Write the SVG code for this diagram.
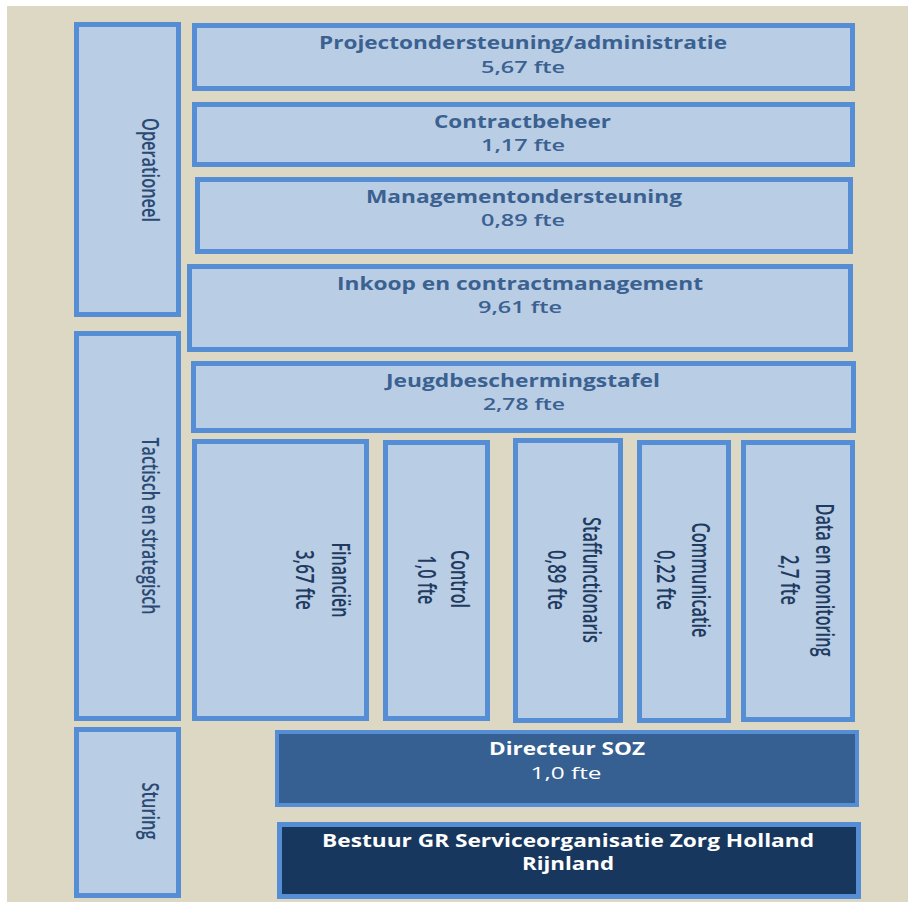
<svg xmlns="http://www.w3.org/2000/svg" width="908" height="902" viewBox="0 0 908 902">
<style>
.bx{fill:#b9cde5;stroke:#558ed5;stroke-width:5}
.dir{fill:#366092;stroke:#558ed5;stroke-width:4}
.bes{fill:#17375e;stroke:#558ed5;stroke-width:5}
.t{font-family:"Open Sans","Noto Sans",sans-serif;font-size:17px;font-weight:bold;fill:#3a6190;text-anchor:middle}
.f{font-family:"Open Sans","Noto Sans",sans-serif;font-size:17px;font-weight:600;fill:#3a6190;text-anchor:middle}
.w{fill:#ffffff}
.v{font-family:"Open Sans","Noto Sans",sans-serif;font-size:25px;font-weight:600;fill:#203a60;text-anchor:middle}
.vb{font-family:"Open Sans","Noto Sans",sans-serif;font-size:24px;font-weight:600;fill:#2b4a73;text-anchor:middle}
</style>
<rect x="0" y="0" width="908" height="902" fill="#ffffff"/>
<rect x="7" y="6" width="901" height="896" fill="#ddd8c4"/>

<g id="operationeel">
<rect class="bx" x="76.5" y="24.5" width="102" height="290"/>
<text class="vb" transform="translate(150,170) rotate(90)" y="8.5" textLength="104" lengthAdjust="spacingAndGlyphs">Operationeel</text>
</g>
<g id="tactisch">
<rect class="bx" x="76.5" y="333.5" width="102" height="385"/>
<text class="vb" transform="translate(150,526) rotate(90)" y="8.5" textLength="177" lengthAdjust="spacingAndGlyphs">Tactisch en strategisch</text>
</g>
<g id="sturing">
<rect class="bx" x="76.5" y="729.5" width="102" height="166"/>
<text class="vb" transform="translate(150,811) rotate(90)" y="8.5" textLength="57" lengthAdjust="spacingAndGlyphs">Sturing</text>
</g>

<g id="project">
<rect class="bx" x="194.5" y="25.5" width="658" height="63"/>
<text class="t" x="523" y="49" textLength="408" lengthAdjust="spacingAndGlyphs">Projectondersteuning/administratie</text>
<text class="f" x="523" y="73" textLength="84" lengthAdjust="spacingAndGlyphs">5,67 fte</text>
</g>
<g id="contractbeheer">
<rect class="bx" x="194.5" y="104.5" width="658" height="60"/>
<text class="t" x="522.5" y="128" textLength="177" lengthAdjust="spacingAndGlyphs">Contractbeheer</text>
<text class="f" x="523" y="151" textLength="84" lengthAdjust="spacingAndGlyphs">1,17 fte</text>
</g>
<g id="management">
<rect class="bx" x="197.5" y="179.5" width="653" height="72"/>
<text class="t" x="524" y="203" textLength="316" lengthAdjust="spacingAndGlyphs">Managementondersteuning</text>
<text class="f" x="523" y="226" textLength="84" lengthAdjust="spacingAndGlyphs">0,89 fte</text>
</g>
<g id="inkoop">
<rect class="bx" x="189.5" y="266.5" width="661" height="83"/>
<text class="t" x="520" y="290" textLength="366" lengthAdjust="spacingAndGlyphs">Inkoop en contractmanagement</text>
<text class="f" x="520" y="313" textLength="84" lengthAdjust="spacingAndGlyphs">9,61 fte</text>
</g>
<g id="jeugd">
<rect class="bx" x="193.5" y="363.5" width="660" height="67"/>
<text class="t" x="523" y="387" textLength="274" lengthAdjust="spacingAndGlyphs">Jeugdbeschermingstafel</text>
<text class="f" x="524" y="410" textLength="82" lengthAdjust="spacingAndGlyphs">2,78 fte</text>
</g>

<g id="financien">
<rect class="bx" x="194.5" y="441.5" width="172" height="277"/>
<text class="v" transform="translate(341,580) rotate(90)" y="9" textLength="75" lengthAdjust="spacingAndGlyphs">Financiën</text>
<text class="v" transform="translate(305,580) rotate(90)" y="9" textLength="60" lengthAdjust="spacingAndGlyphs">3,67 fte</text>
</g>
<g id="control">
<rect class="bx" x="385.5" y="442.5" width="102" height="276"/>
<text class="v" transform="translate(460,579) rotate(90)" y="9" textLength="58" lengthAdjust="spacingAndGlyphs">Control</text>
<text class="v" transform="translate(427,580) rotate(90)" y="9" textLength="49" lengthAdjust="spacingAndGlyphs">1,0 fte</text>
</g>
<g id="staf">
<rect class="bx" x="515.5" y="440.5" width="105" height="280"/>
<text class="v" transform="translate(592,580) rotate(90)" y="9" textLength="126" lengthAdjust="spacingAndGlyphs">Staffunctionaris</text>
<text class="v" transform="translate(557,580) rotate(90)" y="9" textLength="60" lengthAdjust="spacingAndGlyphs">0,89 fte</text>
</g>
<g id="communicatie">
<rect class="bx" x="639.5" y="442.5" width="89" height="278"/>
<text class="v" transform="translate(701,580) rotate(90)" y="9" textLength="115" lengthAdjust="spacingAndGlyphs">Communicatie</text>
<text class="v" transform="translate(666,580) rotate(90)" y="9" textLength="60" lengthAdjust="spacingAndGlyphs">0,22 fte</text>
</g>
<g id="data">
<rect class="bx" x="743.5" y="442.5" width="109" height="277"/>
<text class="v" transform="translate(825,580) rotate(90)" y="9" textLength="153" lengthAdjust="spacingAndGlyphs">Data en monitoring</text>
<text class="v" transform="translate(790,580) rotate(90)" y="9" textLength="50" lengthAdjust="spacingAndGlyphs">2,7 fte</text>
</g>

<g id="directeur">
<rect class="dir" x="277" y="732" width="580" height="73"/>
<text class="t w" x="567" y="755" textLength="156" lengthAdjust="spacingAndGlyphs">Directeur SOZ</text>
<text class="f w" x="566" y="779" style="font-weight:normal" textLength="71" lengthAdjust="spacingAndGlyphs">1,0 fte</text>
</g>
<g id="bestuur">
<rect class="bes" x="279.5" y="824.5" width="579" height="72"/>
<text class="t w" x="568" y="847" textLength="492" lengthAdjust="spacingAndGlyphs">Bestuur GR Serviceorganisatie Zorg Holland</text>
<text class="t w" x="568" y="870" textLength="92" lengthAdjust="spacingAndGlyphs">Rijnland</text>
</g>
<g id="connectors"></g>
</svg>
